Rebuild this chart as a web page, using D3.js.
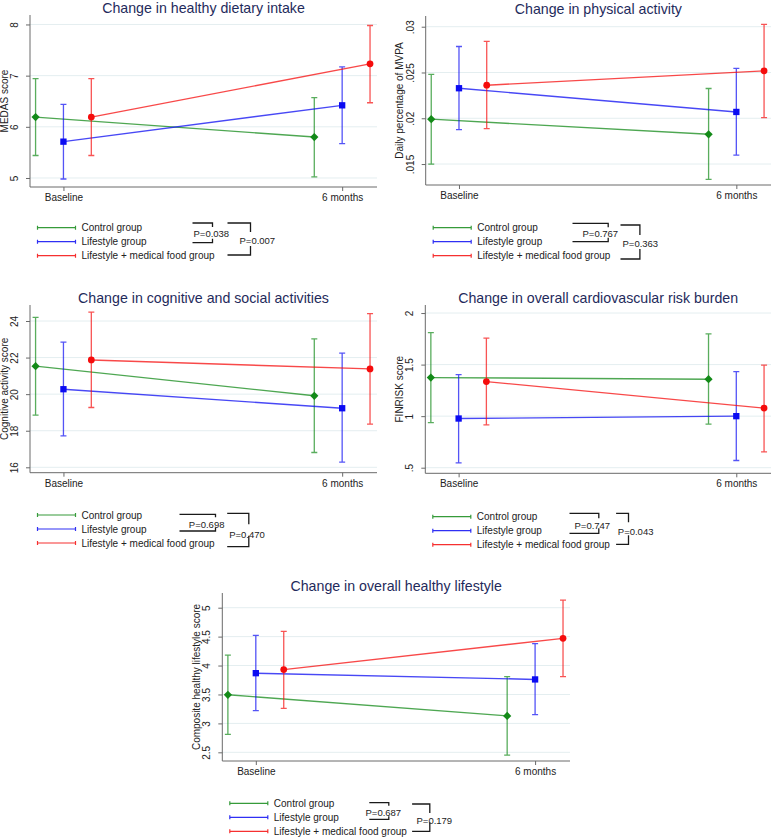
<!DOCTYPE html>
<html><head><meta charset="utf-8">
<script src="https://cdn.jsdelivr.net/npm/d3@7"></script>
<style>body{margin:0;background:#fff;} svg{display:block;font-family:"Liberation Sans",Arial,sans-serif;}</style>
</head><body><svg id="c" width="777" height="840"></svg>
<script>
// ---------- data ----------
const timepoints = ["Baseline", "6 months"];
const timeValues = [0, 1];
const groups = ["Control group", "Lifestyle group", "Lifestyle + medical food group"];
const groupOffsets = [-0.1, 0, 0.1];
const groupColors = ["#138a18", "#0b0bf2", "#f50c0c"];
const groupShapes = ["diamond", "square", "circle"];

const titles = ["Change in healthy dietary intake", "Change in physical activity",
  "Change in cognitive and social activities", "Change in overall cardiovascular risk burden",
  "Change in overall healthy lifestyle"];
const yTitles = ["MEDAS score", "Daily percentage of MVPA", "Cognitive activity score",
  "FINRISK score", "Composite healthy lifestyle score"];

// values are [group][time]
const dietMean = [[6.19, 5.80], [5.71, 6.42], [6.19, 7.23]];
const dietLow  = [[5.44, 5.02], [4.98, 5.67], [5.44, 6.47]];
const dietHigh = [[6.94, 6.57], [6.44, 7.17], [6.94, 7.98]];
const dietTicks = [5, 6, 7, 8];
const dietTickLabels = ["5", "6", "7", "8"];
const dietP = ["P=0.038", "P=0.007"];

const mvpaMean = [[0.0199, 0.01825], [0.02328, 0.02069], [0.02361, 0.02518]];
const mvpaLow  = [[0.0150, 0.01333], [0.01876, 0.01598], [0.01887, 0.02008]];
const mvpaHigh = [[0.0248, 0.02325], [0.02784, 0.02544], [0.02839, 0.03025]];
const mvpaTicks = [0.015, 0.02, 0.025, 0.03];
const mvpaTickLabels = [".015", ".02", ".025", ".03"];
const mvpaP = ["P=0.767", "P=0.363"];

const cogMean = [[21.53, 19.91], [20.27, 19.23], [21.87, 21.38]];
const cogLow  = [[18.85, 16.81], [17.72, 16.28], [19.27, 18.36]];
const cogHigh = [[24.20, 23.02], [22.84, 22.24], [24.48, 24.40]];
const cogTicks = [16, 18, 20, 22, 24];
const cogTickLabels = ["16", "18", "20", "22", "24"];
const cogP = ["P=0.698", "P=0.470"];

const finMean = [[1.374, 1.358], [0.977, 1.000], [1.335, 1.078]];
const finLow  = [[0.938, 0.922], [0.547, 0.570], [0.916, 0.654]];
const finHigh = [[1.810, 1.797], [1.403, 1.432], [1.756, 1.494]];
const finTicks = [0.5, 1, 1.5, 2];
const finTickLabels = [".5", "1", "1.5", "2"];
const finP = ["P=0.747", "P=0.043"];

const compMean = [[3.495, 3.13], [3.868, 3.76], [3.93, 4.47]];
const compLow  = [[2.81, 2.45], [3.22, 3.15], [3.26, 3.81]];
const compHigh = [[4.18, 3.81], [4.52, 4.38], [4.59, 5.13]];
const compTicks = [2.5, 3, 3.5, 4, 4.5, 5];
const compTickLabels = ["2.5", "3", "3.5", "4", "4.5", "5"];
const compP = ["P=0.687", "P=0.179"];

// ---------- layout ----------
const xDomain = [-0.12, 1.125];
const layouts = [
  {box:[30, 15, 377, 187], yDom:[4.824, 8.185], legY:227.7,
   br:[{x0:155,x1:175,yT:-4.7,yB:15,tx:156,ty:5.3,tick:4},{x0:190,x1:213,yT:-4.7,yB:27.3,tx:202,ty:13,tick:9}]},
  {box:[425.7, 16, 771, 185], yDom:[0.01271, 0.03117], legY:227.7,
   br:[{x0:139.3,x1:175,yT:-4.4,yB:14,tx:149.3,ty:5.6,tick:4},{x0:187.3,x1:206.7,yT:-2.7,yB:31.3,tx:189.3,ty:15.6,tick:10}]},
  {box:[30, 305, 377, 472.7], yDom:[15.705, 24.875], legY:515,
   br:[{x0:142,x1:178,yT:-0.7,yB:16,tx:151.3,ty:9.3,tick:3},{x0:189.7,x1:211.3,yT:-1.7,yB:31.7,tx:191.7,ty:19,tick:11}]},
  {box:[425.3, 305, 771, 473.3], yDom:[0.4457, 2.078], legY:516.7,
   br:[{x0:136.7,x1:166,yT:-3.4,yB:16.6,tx:141.7,ty:8.3,tick:5},{x0:183.3,x1:195.7,yT:-3.4,yB:27.6,tx:185,ty:14.3,tick:9}]},
  {box:[222.3, 593, 570, 761], yDom:[2.35, 5.254], legY:803.3,
   br:[{x0:139.5,x1:159,yT:-0.6,yB:16,tx:135.7,ty:9,tick:3},{x0:182.3,x1:200,yT:0.7,yB:28,tx:186.7,ty:17.4,tick:9}]}
];

const panels = [
  {mean:dietMean, low:dietLow, high:dietHigh, ticks:dietTicks, tickLabels:dietTickLabels, p:dietP},
  {mean:mvpaMean, low:mvpaLow, high:mvpaHigh, ticks:mvpaTicks, tickLabels:mvpaTickLabels, p:mvpaP},
  {mean:cogMean, low:cogLow, high:cogHigh, ticks:cogTicks, tickLabels:cogTickLabels, p:cogP},
  {mean:finMean, low:finLow, high:finHigh, ticks:finTicks, tickLabels:finTickLabels, p:finP},
  {mean:compMean, low:compLow, high:compHigh, ticks:compTicks, tickLabels:compTickLabels, p:compP}
];

const svg = d3.select("#c");
const axisColor = "#6a6a6a";
const textColor = "#222";

panels.forEach((pd, pi) => {
  const L = layouts[pi];
  const [left, top, right, bottom] = L.box;
  const x = d3.scaleLinear().domain(xDomain).range([left, right]);
  const y = d3.scaleLinear().domain(L.yDom).range([bottom, top]);
  const g = svg.append("g");

  // title
  g.append("text").attr("x", (left + right) / 2).attr("y", top - 7.5)
    .attr("text-anchor", "middle").attr("dominant-baseline", "central")
    .attr("font-size", 14.2).attr("fill", "#1f2b5c").text(titles[pi]);

  // gridlines
  g.selectAll(".grid").data(pd.ticks).join("line")
    .attr("x1", left).attr("x2", right)
    .attr("y1", d => y(d)).attr("y2", d => y(d))
    .attr("stroke", "#e4eef0").attr("stroke-width", 1);

  // y axis
  const yAxis = d3.axisLeft(y).tickValues(pd.ticks)
    .tickFormat((d, i) => pd.tickLabels[i]).tickSize(4).tickSizeOuter(0);
  const ya = g.append("g").attr("transform", `translate(${left},0)`).call(yAxis);
  ya.select(".domain").attr("stroke", axisColor).attr("d", `M0,${top}V${bottom}`);
  ya.selectAll(".tick line").attr("stroke", axisColor);
  ya.selectAll(".tick text").attr("font-size", 10).attr("fill", textColor)
    .attr("font-family", '"Liberation Sans",Arial,sans-serif')
    .attr("transform", "rotate(-90)").attr("text-anchor", "middle")
    .attr("x", 0).attr("y", -12).attr("dy", "0");

  // y title
  g.append("text").attr("transform", `translate(${left - 22.5},${(top + bottom) / 2}) rotate(-90)`)
    .attr("text-anchor", "middle").attr("font-size", 10).attr("fill", textColor)
    .text(yTitles[pi]);

  // x axis
  const xAxis = d3.axisBottom(x).tickValues(timeValues)
    .tickFormat((d, i) => timepoints[i]).tickSize(4).tickSizeOuter(0);
  const xa = g.append("g").attr("transform", `translate(0,${bottom})`).call(xAxis);
  xa.select(".domain").attr("stroke", axisColor).attr("d", `M${left},0H${right}`);
  xa.selectAll(".tick line").attr("stroke", axisColor);
  xa.selectAll(".tick text").attr("font-size", 10).attr("fill", textColor)
    .attr("font-family", '"Liberation Sans",Arial,sans-serif').attr("y", 7).attr("dy", "0.71em");

  // series
  groups.forEach((gr, gi) => {
    const col = groupColors[gi];
    const pts = timeValues.map((t, ti) => ({
      x: x(t + groupOffsets[gi]), m: y(pd.mean[gi][ti]),
      lo: y(pd.low[gi][ti]), hi: y(pd.high[gi][ti])
    }));
    const sg = g.append("g");
    // error bars
    pts.forEach(p => {
      sg.append("path")
        .attr("d", `M${p.x},${p.hi}V${p.lo}M${p.x - 3},${p.hi}H${p.x + 3}M${p.x - 3},${p.lo}H${p.x + 3}`)
        .attr("stroke", col).attr("stroke-opacity", 0.7).attr("stroke-width", 1.3).attr("fill", "none");
    });
    // connecting line
    sg.append("path").datum(pts)
      .attr("d", d3.line().x(d => d.x).y(d => d.m))
      .attr("stroke", col).attr("stroke-opacity", 0.75).attr("stroke-width", 1.4).attr("fill", "none");
    // markers
    pts.forEach(p => {
      let sym, rot = 0;
      if (groupShapes[gi] === "diamond") { sym = d3.symbol(d3.symbolSquare, 34); rot = 45; }
      else if (groupShapes[gi] === "square") sym = d3.symbol(d3.symbolSquare, 40);
      else sym = d3.symbol(d3.symbolCircle, 36);
      sg.append("path").attr("d", sym())
        .attr("transform", `translate(${p.x},${p.m}) rotate(${rot})`)
        .attr("fill", col);
    });
  });

  // legend
  const lx = left + 7.5;
  groups.forEach((gr, gi) => {
    const ly = L.legY + gi * 14;
    const col = groupColors[gi];
    g.append("path")
      .attr("d", `M${lx},${ly}H${lx + 38}M${lx},${ly - 2}V${ly + 2}M${lx + 38},${ly - 2}V${ly + 2}`)
      .attr("stroke", col).attr("stroke-opacity", 0.85).attr("stroke-width", 1.2).attr("fill", "none");
    g.append("text").attr("x", lx + 44).attr("y", ly).attr("dominant-baseline", "central")
      .attr("font-size", 10).attr("fill", textColor).text(gr);
  });

  // p-value brackets
  L.br.forEach((b, bi) => {
    const x0 = lx + b.x0, x1 = lx + b.x1, yT = L.legY + b.yT, yB = L.legY + b.yB;
    g.append("path")
      .attr("d", `M${x0},${yT}H${x1}V${yT + b.tick}M${x0},${yB}H${x1}V${yB - b.tick}`)
      .attr("stroke", "#1a1a1a").attr("stroke-width", 1.3).attr("fill", "none");
    g.append("text").attr("x", lx + b.tx).attr("y", L.legY + b.ty).attr("dominant-baseline", "central")
      .attr("font-size", 9.5).attr("fill", textColor).text(pd.p[bi]);
  });
});
</script></body></html>
